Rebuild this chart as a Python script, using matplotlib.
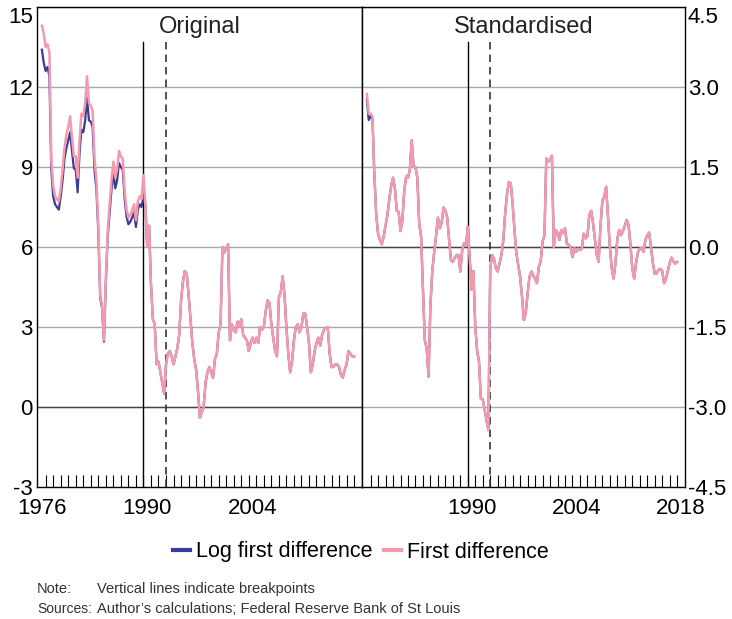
"""Inflation measures: original vs standardised, with breakpoints."""
import numpy as np
import pandas as pd
import matplotlib
matplotlib.use("Agg")
import matplotlib.pyplot as plt
from matplotlib.lines import Line2D

plt.rcParams["font.family"] = ["Liberation Sans", "DejaVu Sans"]

# quarterly, 1976 Q3 to 2018 Q1
quarters = pd.period_range("1976Q3", "2018Q1", freq="Q")

# === Original panel: first difference ===
first_diff = [
    14.3, 14.0, 13.5, 13.6, 13.3, 9.3, 8.3, 7.9, 7.8, 7.7,
    8.2, 8.9, 9.7, 10.2, 10.5, 10.9, 10.1, 9.4, 9.4, 8.6,
    10.0, 11.0, 10.9, 11.4, 12.4, 11.4, 11.3, 11.1, 9.3, 8.5,
    6.8, 4.2, 3.8, 2.5, 4.8, 6.6, 7.6, 8.5, 9.2, 8.6,
    8.9, 9.6, 9.4, 9.3, 8.1, 7.4, 7.1, 7.2, 7.4, 7.6,
    7.0, 7.7, 7.9, 7.8, 8.7,
    7.6, 6.0, 6.8, 4.6, 3.3, 3.1, 1.6, 1.7, 1.3, 0.9,
    0.5, 1.6, 2.0, 2.1, 1.9, 1.6, 1.9, 2.2, 2.7, 4.0,
    4.7, 5.1, 5.0, 4.2, 3.3, 2.4, 1.8, 1.4, 0.6, -0.4,
    -0.2, 0.0, 0.9, 1.3, 1.5, 1.3, 1.1, 1.8, 2.0, 2.8,
    3.1, 6.0, 5.8, 5.95, 6.1, 2.5, 3.1, 2.9, 2.8, 3.2,
    3.0, 3.3, 2.7, 2.6, 2.5, 2.1,
    2.4, 2.6, 2.4, 2.6, 2.4, 3.0, 2.9, 3.0, 3.6, 4.0,
    3.9, 3.1, 2.6, 2.1, 1.9, 4.1, 4.3, 4.9, 4.2, 3.0,
    2.0, 1.3, 1.7, 2.5, 3.0, 3.1, 2.8, 3.0, 3.5, 3.5,
    3.0, 2.4, 1.3, 1.6, 2.1, 2.4, 2.6, 2.3, 2.7, 2.9,
    2.95, 3.0, 2.0, 1.5, 1.5, 1.6, 1.6, 1.5, 1.2, 1.1,
    1.4, 1.6, 2.1, 2.0, 1.9, 1.9,
]

# log first difference sits visibly below until 1990, then overlaps
log_first_diff = [
    13.4, 12.9, 12.6, 12.75, 12.4, 8.9, 7.9, 7.6, 7.5, 7.4,
    7.9, 8.5, 9.3, 9.7, 10.0, 10.3, 9.6, 8.95, 8.9, 8.05,
    9.5, 10.4, 10.3, 10.75, 11.6, 10.75, 10.7, 10.5, 8.85, 8.15,
    6.55, 4.1, 3.7, 2.45, 4.7, 6.4, 7.3, 8.15, 8.8, 8.2,
    8.5, 9.15, 9.0, 8.9, 7.8, 7.15, 6.85, 6.95, 7.1, 7.3,
    6.75, 7.4, 7.6, 7.5, 7.9,
] + first_diff[55:]

# === Standardised panel ===
std_first_diff = [
    2.87, 2.5, 2.5, 2.45, 1.4, 0.6, 0.25, 0.13, 0.05, 0.2,
    0.4, 0.6, 0.9, 1.15, 1.3, 1.1, 0.68, 0.66, 0.3, 0.5,
    1.05, 1.32, 1.3, 1.45, 2.0, 1.5, 1.5, 1.3, 0.45, 0.2,
    -0.8, -1.75, -1.9, -2.43, -1.1, -0.45, -0.1, 0.2, 0.55, 0.35,
    0.45, 0.74, 0.68, 0.55, 0.13, -0.25, -0.28, -0.2, -0.15, -0.15,
    -0.46, -0.06, 0.07, 0.02, 0.38,
    -0.2, -0.8, -0.45, -1.5, -1.95, -2.15, -2.85, -2.85, -3.05, -3.25,
    -3.43, -0.4, -0.15, -0.22, -0.4, -0.46, -0.3, -0.15, 0.13, 0.63,
    1.0, 1.22, 1.19, 0.8, 0.3, -0.12, -0.35, -0.56, -0.93, -1.37,
    -1.24, -0.87, -0.56, -0.46, -0.53, -0.6, -0.68, -0.37, -0.27, 0.1,
    0.22, 1.66, 1.6, 1.63, 1.71, 0.0, 0.32, 0.26, 0.13, 0.32,
    0.26, 0.35, 0.06, 0.04, 0.0, -0.19,
    -0.02, -0.09, -0.03, -0.06, -0.03, 0.25, 0.16, 0.2, 0.6, 0.68,
    0.45, 0.15, -0.15, -0.28, 0.4, 0.87, 0.94, 1.13, 0.55, 0.0,
    -0.4, -0.59, -0.3, 0.15, 0.32, 0.22, 0.3, 0.4, 0.51, 0.41,
    0.05, -0.4, -0.59, -0.3, -0.1, -0.03, -0.02, -0.09, 0.13, 0.22,
    0.27, 0.0, -0.3, -0.5, -0.5, -0.43, -0.41, -0.45, -0.68, -0.6,
    -0.45, -0.3, -0.2, -0.27, -0.31, -0.28,
]
std_log_first_diff = [2.76, 2.38, 2.45, 2.4, 1.35] + std_first_diff[5:]

breakpoints = [1990.0, 1993.0]
panel_titles = ["Original", "Standardised"]
legend_labels = ["Log first difference", "First difference"]
note_text = "Vertical lines indicate breakpoints"
sources_text = "Author\u2019s calculations; Federal Reserve Bank of St Louis"

BLUE = "#3b3b9c"
PINK = "#f59aac"
GRID = "#a9a9a9"


def main():
    x = np.array([p.year + (p.quarter - 1) / 4 for p in quarters])

    fig = plt.figure(figsize=(7.32, 6.19), dpi=100)
    ax1 = fig.add_axes([37 / 732, 132 / 619, 325 / 732, 480 / 619])
    ax2 = fig.add_axes([362 / 732, 132 / 619, 323 / 732, 480 / 619])

    panels = [
        (ax1, log_first_diff, first_diff, (-3, 15), np.arange(-3, 16, 3), ["1976", "1990", "2004", ""]),
        (ax2, std_log_first_diff, std_first_diff, (-4.5, 4.5), np.arange(-4.5, 4.6, 1.5), ["", "1990", "2004", "2018"]),
    ]

    for i, (ax, blue_vals, pink_vals, ylim, yticks, xlabels) in enumerate(panels):
        ax.plot(x, blue_vals, color=BLUE, lw=1.6, zorder=3)
        ax.plot(x, pink_vals, color=PINK, lw=1.8, zorder=4)

        ax.set_xlim(1975.85, 2019.05)
        ax.set_ylim(*ylim)
        ax.set_yticks(yticks)
        for yt in yticks[1:]:
            ax.axhline(yt, color=GRID, lw=1.0, zorder=1)
        ax.axhline(0, color="#444444", lw=1.0, zorder=2)

        ax.axvline(breakpoints[0], ymax=0.928, color="black", lw=1.0, zorder=2)
        ax.axvline(breakpoints[1], ymax=0.928, color="#333333", lw=1.2,
                   dashes=(4.5, 3), zorder=2)

        ax.set_xticks([1976.5, 1990.5, 2004.5, 2018.5])
        ax.set_xticklabels(xlabels)
        ax.set_xticks(np.arange(1977, 2019), minor=True)
        ax.tick_params(axis="x", which="major", length=0, pad=8, labelsize=16)
        ax.tick_params(axis="x", which="minor", direction="in", length=9, width=0.8)

        if i == 0:
            ax.set_yticklabels([f"{v:g}" for v in yticks])
            ax.tick_params(axis="y", length=0, pad=3, labelsize=16)
        else:
            ax.yaxis.tick_right()
            ax.set_yticklabels([f"{v:.1f}" for v in yticks])
            ax.tick_params(axis="y", length=0, pad=2, labelsize=16)
        ax.get_yticklabels()[-1].set_verticalalignment("top")

        for sp in ax.spines.values():
            sp.set_color("black")
            sp.set_linewidth(1.0)

        ax.text(0.5, (487 - 27) / 480, panel_titles[i], transform=ax.transAxes,
                ha="center", va="center", fontsize=17, color="#222222", zorder=5)

    handles = [Line2D([], [], color=BLUE, lw=3), Line2D([], [], color=PINK, lw=3)]
    fig.legend(handles, legend_labels, loc="center", bbox_to_anchor=(361 / 732, 1 - 552 / 619),
               ncol=2, frameon=False, fontsize=15.5, handlelength=0.8,
               handletextpad=0.3, columnspacing=0.5)

    fig.text(37 / 732, 1 - 589 / 619, "Note:", fontsize=10.5, va="center", color="#333333")
    fig.text(97 / 732, 1 - 589 / 619, note_text, fontsize=10.5, va="center", color="#333333")
    fig.text(37 / 732, 1 - 609 / 619, "Sources:", fontsize=10, va="center", color="#333333")
    fig.text(97 / 732, 1 - 609 / 619, sources_text, fontsize=10.5, va="center", color="#333333")

    fig.savefig("out.png", dpi=100)
    plt.close(fig)


if __name__ == "__main__":
    main()
